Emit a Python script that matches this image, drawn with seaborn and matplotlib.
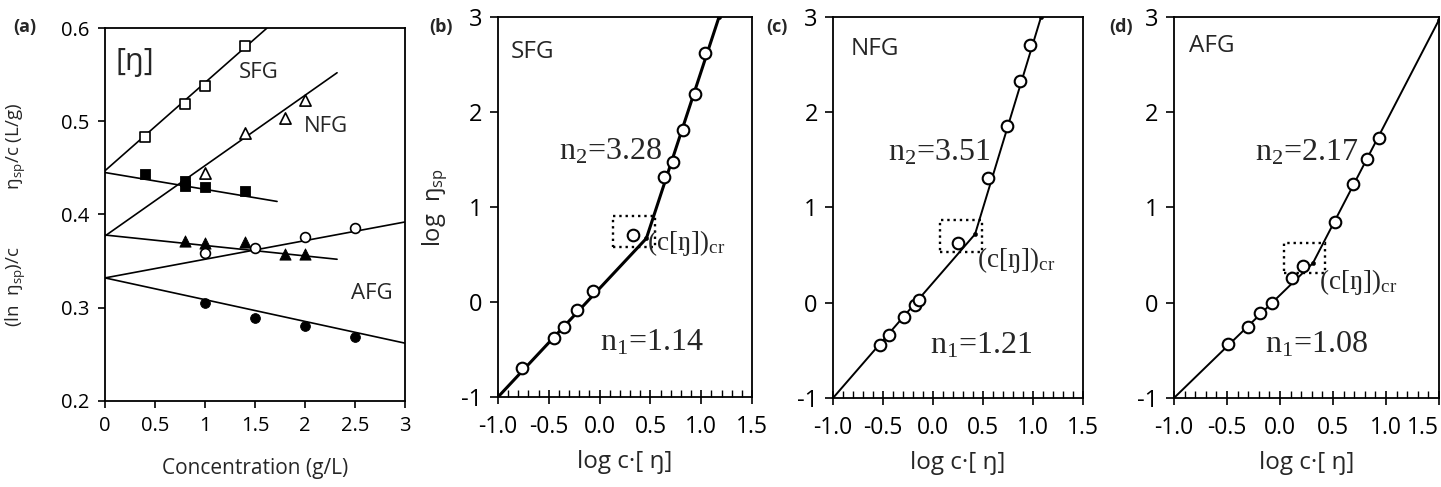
import matplotlib
matplotlib.use("Agg")
import matplotlib.pyplot as plt
import seaborn as sns
from matplotlib.patches import Rectangle
from matplotlib.ticker import MultipleLocator, FixedLocator

sns.set_style("ticks")
plt.rcParams['font.family'] = ['Open Sans', 'DejaVu Sans']
plt.rcParams['axes.unicode_minus'] = False
plt.rcParams['mathtext.default'] = 'regular'

# (a) reduced (open) and inherent (filled) viscosity vs concentration
sfg_c = [0.4, 0.8, 1.0, 1.4]
sfg_red = [0.483, 0.519, 0.538, 0.581]
sfg_inh_c = [0.4, 0.8, 0.8, 1.0, 1.4]
sfg_inh = [0.443, 0.436, 0.431, 0.430, 0.425]
nfg_c = [1.0, 1.4, 1.8, 2.0]
nfg_red = [0.444, 0.487, 0.504, 0.523]
nfg_inh_c = [0.8, 1.0, 1.4, 1.8, 2.0]
nfg_inh = [0.372, 0.369, 0.371, 0.358, 0.358]
afg_c = [1.0, 1.5, 2.0, 2.5]
afg_red = [0.359, 0.364, 0.376, 0.386]
afg_inh = [0.305, 0.289, 0.280, 0.269]

# (a) fitted lines: value at c=0, value at the end, end concentration
fit_start = [0.447, 0.377, 0.445, 0.378, 0.332, 0.332]
fit_end = [0.600, 0.552, 0.414, 0.352, 0.392, 0.262]
fit_c_end = [1.62, 2.32, 1.72, 2.32, 3.0, 3.0]

# (b)-(d) log eta_sp vs log c[eta]
sfg_logc = [-0.764, -0.449, -0.350, -0.222, -0.065, 0.329, 0.634, 0.722, 0.821, 0.939, 1.037]
sfg_logeta = [-0.695, -0.379, -0.263, -0.084, 0.116, 0.705, 1.316, 1.474, 1.811, 2.19, 2.62]
nfg_logc = [-0.53, -0.44, -0.29, -0.18, -0.14, 0.25, 0.55, 0.74, 0.87, 0.97]
nfg_logeta = [-0.444, -0.339, -0.15, -0.024, 0.029, 0.627, 1.31, 1.856, 2.33, 2.706]
afg_logc = [-0.491, -0.302, -0.189, -0.075, 0.113, 0.217, 0.519, 0.689, 0.821, 0.934]
afg_logeta = [-0.433, -0.255, -0.108, -0.003, 0.259, 0.386, 0.848, 1.247, 1.509, 1.730]

# two-slope fits (start, critical point, end)
sfg_fit_x = [-1.0, 0.46, 1.175]
sfg_fit_y = [-1.0, 0.67, 3.0]
nfg_fit_x = [-1.0, 0.42, 1.08]
nfg_fit_y = [-1.0, 0.72, 3.0]
afg_fit_x = [-1.0, 0.31, 1.5]
afg_fit_y = [-1.0, 0.415, 2.97]

# dotted boxes round (c[eta])cr : x0, x1, y0, y1
sfg_box = [0.13, 0.54, 0.58, 0.90]
nfg_box = [0.07, 0.49, 0.53, 0.87]
afg_box = [0.04, 0.42, 0.31, 0.63]

names = ["SFG", "NFG", "AFG"]
n1_vals = ["1.14", "1.21", "1.08"]
n2_vals = ["3.28", "3.51", "2.17"]

fig = plt.figure(figsize=(14.41, 4.87), dpi=100)
ax_a = fig.add_axes([0.0729, 0.1766, 0.2082, 0.7659])
ax_b = fig.add_axes([0.3456, 0.1848, 0.1763, 0.7803])
ax_c = fig.add_axes([0.5781, 0.1828, 0.1735, 0.7823])
ax_d = fig.add_axes([0.8147, 0.1828, 0.1839, 0.7823])

# ---- panel (a)
ax = ax_a
for c0, y0, y1 in zip(fit_c_end, fit_start, fit_end):
    sns.lineplot(x=[0.0, c0], y=[y0, y1], ax=ax, color='black', lw=1.2,
                 estimator=None, sort=False)
open_kw = dict(facecolor='white', edgecolor='black', linewidth=1.2, zorder=3)
fill_kw = dict(color='black', edgecolor='black', zorder=3)
sns.scatterplot(x=sfg_c, y=sfg_red, ax=ax, marker='s', s=55, **open_kw)
sns.scatterplot(x=sfg_inh_c, y=sfg_inh, ax=ax, marker='s', s=55, **fill_kw)
sns.scatterplot(x=nfg_c, y=nfg_red, ax=ax, marker='^', s=65, **open_kw)
sns.scatterplot(x=nfg_inh_c, y=nfg_inh, ax=ax, marker='^', s=65, **fill_kw)
sns.scatterplot(x=afg_c, y=afg_red, ax=ax, marker='o', s=50, **open_kw)
sns.scatterplot(x=afg_c, y=afg_inh, ax=ax, marker='o', s=50, **fill_kw)
ax.set_xlim(0, 3)
ax.set_ylim(0.2, 0.6)
ax.set_xticks([0, 0.5, 1, 1.5, 2, 2.5, 3])
ax.set_xticklabels(["0", "0.5", "1", "1.5", "2", "2.5", "3"])
ax.set_yticks([0.2, 0.3, 0.4, 0.5, 0.6])
ax.tick_params(direction='out', length=5, width=1.2, labelsize=14.5, colors='black', pad=6)
ax.set_xlabel("Concentration (g/L)", fontsize=15, labelpad=16)
ax.set_ylabel(r"(ln  ŋ$_{sp}$)/c            ŋ$_{sp}$/c (L/g)", fontsize=13.5, labelpad=24)
ax.text(0.3, 0.5635, "[ŋ]", fontsize=22, ha='center', va='center')
ax.text(1.54, 0.552, "SFG", fontsize=16, ha='center', va='center')
ax.text(2.21, 0.494, "NFG", fontsize=16, ha='center', va='center')
ax.text(2.67, 0.315, "AFG", fontsize=16, ha='center', va='center')

# ---- panels (b)-(d)
panels = [
    (ax_b, sfg_logc, sfg_logeta, sfg_fit_x, sfg_fit_y, sfg_box, 2.2),
    (ax_c, nfg_logc, nfg_logeta, nfg_fit_x, nfg_fit_y, nfg_box, 1.4),
    (ax_d, afg_logc, afg_logeta, afg_fit_x, afg_fit_y, afg_box, 1.4),
]
name_pos = [(-0.665, 2.63), (-0.58, 2.66), (-0.64, 2.70)]
n2_pos = [(-0.40, 1.58), (-0.45, 1.57), (-0.236, 1.57)]
n1_pos = [(0.004, -0.43), (-0.03, -0.45), (-0.14, -0.44)]
cr_pos = [(0.47, 0.62), (0.44, 0.45), (0.37, 0.22)]

for i, (ax, xs, ys, fx, fy, box, lw) in enumerate(panels):
    sns.lineplot(x=fx, y=fy, ax=ax, color='black', lw=lw, estimator=None, sort=False,
                 zorder=2)
    sns.scatterplot(x=fx[1:], y=fy[1:], ax=ax, color='black', s=10, marker='o',
                    edgecolor='black', zorder=2)
    sns.scatterplot(x=xs, y=ys, ax=ax, marker='o', s=70, facecolor='white',
                    edgecolor='black', linewidth=1.5, zorder=3)
    ax.add_patch(Rectangle((box[0], box[2]), box[1] - box[0], box[3] - box[2],
                           fill=False, ls=':', lw=1.7, ec='black', zorder=2))
    ax.set_xlim(-1.0, 1.5)
    ax.set_ylim(-1, 3)
    ax.xaxis.set_major_locator(FixedLocator([-1.0, -0.5, 0.0, 0.5, 1.0, 1.5]))
    ax.set_xticklabels(["-1.0", "-0.5", "0.0", "0.5", "1.0", "1.5"])
    ax.xaxis.set_minor_locator(MultipleLocator(0.1))
    ax.set_yticks([-1, 0, 1, 2, 3])
    ax.tick_params(axis='x', which='major', direction='inout', length=10, width=1.2,
                   labelsize=16.5, pad=8, colors='black')
    ax.tick_params(axis='x', which='minor', direction='in', length=5, width=1.0,
                   colors='black')
    ax.tick_params(axis='y', direction='out', length=6, width=1.2, labelsize=17,
                   colors='black', pad=5)
    ax.set_xlabel("log c·[ ŋ]", fontsize=17.5, labelpad=8)
    ax.text(*name_pos[i], names[i], fontsize=17.5, ha='center', va='center')
    ax.text(*n2_pos[i], r"n$_{2}$=" + n2_vals[i], fontsize=23, ha='left', va='center',
            family=['Liberation Serif', 'DejaVu Serif'])
    ax.text(*n1_pos[i], r"n$_{1}$=" + n1_vals[i], fontsize=23, ha='left', va='center',
            family=['Liberation Serif', 'DejaVu Serif'])
    ax.text(*cr_pos[i], r"(c[ŋ])$_{cr}$", fontsize=19.5, ha='left', va='center',
            family=['Liberation Serif', 'DejaVu Serif'])

# last x label of the right panel sits inside the figure edge
ax_d.get_xticklabels()[-1].set_horizontalalignment('right')
ax_d.get_xticklabels()[-1].set_x(1.5)

ax_b.set_ylabel(r"log  ŋ$_{sp}$", fontsize=17, labelpad=8)

for ax in [ax_a, ax_b, ax_c, ax_d]:
    for sp in ax.spines.values():
        sp.set_linewidth(1.3)
        sp.set_color('black')

fig.text(25 / 1441, 1 - 27 / 487, "(a)", fontsize=13, fontweight='bold', ha='center', va='center')
fig.text(441 / 1441, 1 - 27 / 487, "(b)", fontsize=13, fontweight='bold', ha='center', va='center')
fig.text(777 / 1441, 1 - 27 / 487, "(c)", fontsize=13, fontweight='bold', ha='center', va='center')
fig.text(1121 / 1441, 1 - 27 / 487, "(d)", fontsize=13, fontweight='bold', ha='center', va='center')

fig.savefig("out.png", dpi=100)
